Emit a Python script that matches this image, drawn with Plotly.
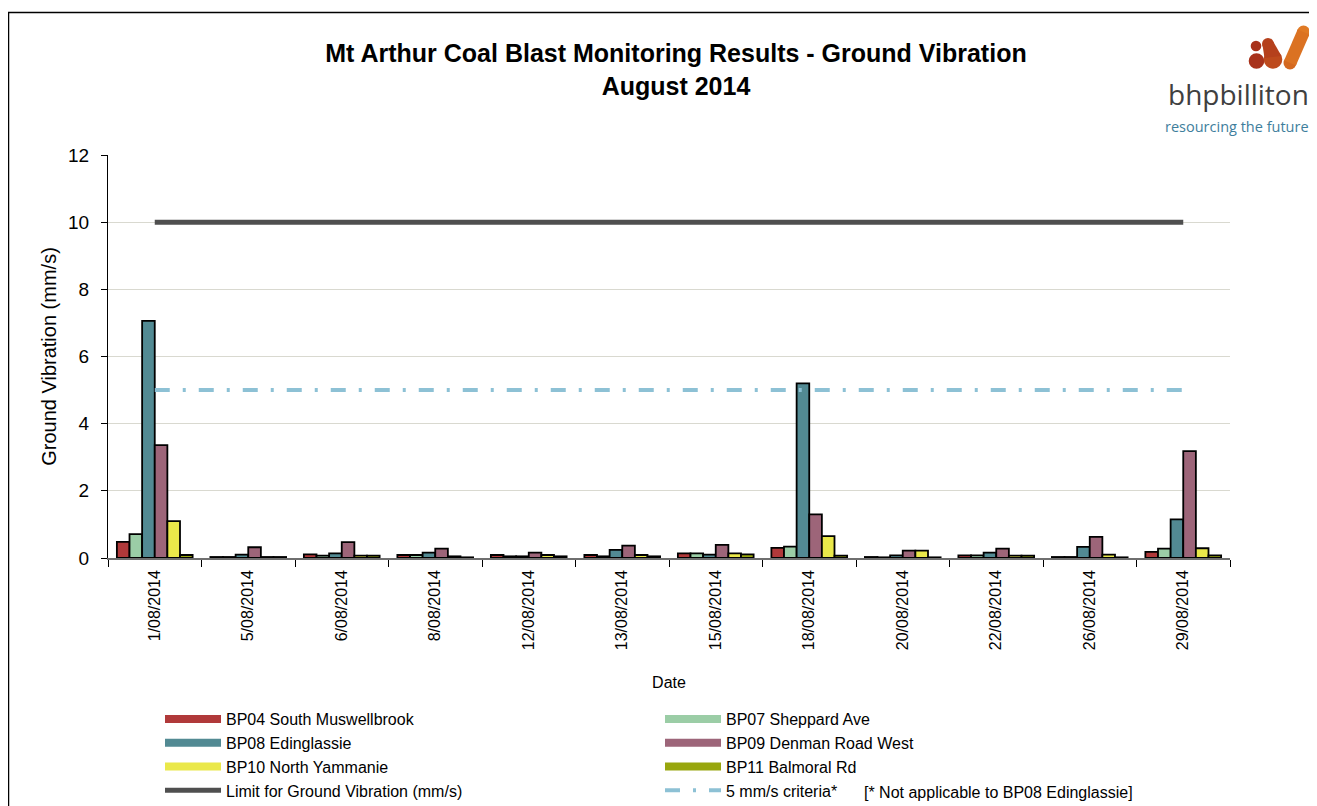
import plotly.graph_objects as go

dates = ["1/08/2014", "5/08/2014", "6/08/2014", "8/08/2014", "12/08/2014", "13/08/2014",
         "15/08/2014", "18/08/2014", "20/08/2014", "22/08/2014", "26/08/2014", "29/08/2014"]

bp04 = [0.48, 0.03, 0.11, 0.09, 0.09, 0.09, 0.14, 0.30, 0.03, 0.08, 0.03, 0.18]
bp07 = [0.71, 0.03, 0.07, 0.09, 0.05, 0.05, 0.14, 0.34, 0.02, 0.08, 0.03, 0.28]
bp08 = [7.06, 0.10, 0.14, 0.16, 0.05, 0.24, 0.10, 5.20, 0.08, 0.16, 0.33, 1.15]
bp09 = [3.36, 0.32, 0.47, 0.28, 0.16, 0.37, 0.39, 1.30, 0.22, 0.28, 0.63, 3.18]
bp10 = [1.10, 0.03, 0.07, 0.05, 0.09, 0.09, 0.14, 0.65, 0.22, 0.07, 0.10, 0.29]
bp11 = [0.09, 0.03, 0.07, 0.02, 0.05, 0.05, 0.11, 0.07, 0.02, 0.07, 0.02, 0.08]

limit_value = 10
criteria_value = 5

series = [
    ("BP04 South Muswellbrook", bp04, "#B0393A"),
    ("BP07 Sheppard Ave", bp07, "#9BCDA6"),
    ("BP08 Edinglassie", bp08, "#528A93"),
    ("BP09 Denman Road West", bp09, "#9D6579"),
    ("BP10 North Yammanie", bp10, "#EAE84A"),
    ("BP11 Balmoral Rd", bp11, "#98A60E"),
]

# page body has an 8px margin: figure pixel = reference pixel - 8
OFF = 8
W, H = 1309, 798
ML, MR, MT, MB = 100, 87, 147, 248
PW, PH = W - ML - MR, H - MT - MB


def px(x):
    return (x - OFF - ML) / PW


def py(y):
    return (H - MB - (y - OFF)) / PH


fig = go.Figure()
for name, vals, col in series:
    fig.add_trace(go.Bar(x=dates, y=vals, name=name, legendgroup=name, showlegend=False,
                         marker=dict(color=col, line=dict(color="black", width=1.8))))
    # legend swatch (wide bar-like line)
    fig.add_trace(go.Scatter(x=[None], y=[None], mode="lines", name=name, legendgroup=name,
                             line=dict(color=col, width=8)))

fig.add_trace(go.Scatter(x=[dates[0], dates[-1]], y=[limit_value, limit_value], mode="lines",
                         name="Limit for Ground Vibration (mm/s)", line=dict(color="#4F4F4F", width=5)))
fig.add_trace(go.Scatter(x=[dates[0], dates[-1]], y=[criteria_value, criteria_value], mode="lines",
                         name="5 mm/s criteria*",
                         line=dict(color="#8DC1D5", width=4, dash="15px,13px,3px,13px")))

fig.update_layout(
    width=W, height=H,
    paper_bgcolor="white", plot_bgcolor="white",
    font=dict(family="Liberation Sans, Arial, sans-serif", color="black"),
    margin=dict(l=ML, r=MR, t=MT, b=MB, autoexpand=False),
    barmode="group", bargap=0.19, bargroupgap=0,
    title=dict(text="<b>Mt Arthur Coal Blast Monitoring Results - Ground Vibration<br>August 2014</b>",
               x=(676 - OFF) / W, xanchor="center", y=1 - (62 - OFF) / H, yanchor="top",
               font=dict(size=25)),
    legend=dict(orientation="h", x=px(160), xanchor="left", y=py(702), yanchor="top",
                entrywidth=429, entrywidthmode="pixels", font=dict(size=16), traceorder="normal",
                tracegroupgap=0, itemwidth=56, bgcolor="rgba(0,0,0,0)"),
    showlegend=True,
)
fig.update_xaxes(type="category", tickangle=-90, tickfont=dict(size=16), ticks="outside",
                 tickson="boundaries", ticklen=7, tickcolor="black", showline=True,
                 linecolor="#6f6f6f", linewidth=1.5, showgrid=False, ticklabelstandoff=4,
                 title=dict(text="Date", font=dict(size=16), standoff=28))
fig.update_yaxes(range=[0, 12], dtick=2, tickfont=dict(size=19), ticks="outside", ticklen=6,
                 tickcolor="black", showline=True, linecolor="black", linewidth=1,
                 showgrid=True, gridcolor="#D9D9D0", gridwidth=1, zeroline=False,
                 ticklabelstandoff=8,
                 title=dict(text="Ground Vibration (mm/s)", font=dict(size=20), standoff=6))

fig.add_annotation(text="[* Not applicable to BP08 Edinglassie]", xref="paper", yref="paper",
                   x=px(862), y=py(792), xanchor="left", yanchor="middle",
                   showarrow=False, font=dict(size=16))

# Logo text
fig.add_annotation(text="bhpbilliton", xref="paper", yref="paper", x=px(1311),
                   y=py(94), xanchor="right", yanchor="middle", showarrow=False,
                   font=dict(size=28, color="#404040", family="Open Sans, sans-serif"))
fig.add_annotation(text="resourcing the future", xref="paper", yref="paper", x=px(1311),
                   y=py(126), xanchor="right", yanchor="middle", showarrow=False,
                   font=dict(size=14.5, color="#3E7E9C", family="Open Sans, sans-serif"))


def circle(cx, cy, r, color):
    fig.add_shape(type="circle", xref="paper", yref="paper",
                  x0=px(cx - r), x1=px(cx + r), y0=py(cy + r), y1=py(cy - r),
                  fillcolor=color, line=dict(width=0))


def poly(points, color):
    path = "M " + " L ".join(f"{px(x):.5f},{py(y):.5f}" for x, y in points) + " Z"
    fig.add_shape(type="path", xref="paper", yref="paper", path=path,
                  fillcolor=color, line=dict(width=0))


# Logo mark
circle(1256, 46, 5.3, "#A8321B")
circle(1256.5, 61, 7.8, "#A8321B")
circle(1268, 44, 6, "#B5401C")
circle(1273, 59.5, 9.3, "#BD4A1D")
poly([(1262.5, 45), (1273.5, 42), (1281.5, 56), (1264.5, 58)], "#B5401C")
circle(1303.5, 32, 6.5, "#E07A25")
circle(1290, 63, 6.5, "#D4681F")
poly([(1297.6, 29.5), (1309.4, 34.5), (1295.9, 65.5), (1284.1, 60.5)], "#DB7222")

# Outer frame
fig.add_shape(type="rect", xref="paper", yref="paper", x0=px(8.5), x1=px(1313),
              y0=py(H + 20), y1=py(12.5), line=dict(color="black", width=1.5),
              fillcolor="rgba(0,0,0,0)", layer="below")

fig.write_html("out.html")
